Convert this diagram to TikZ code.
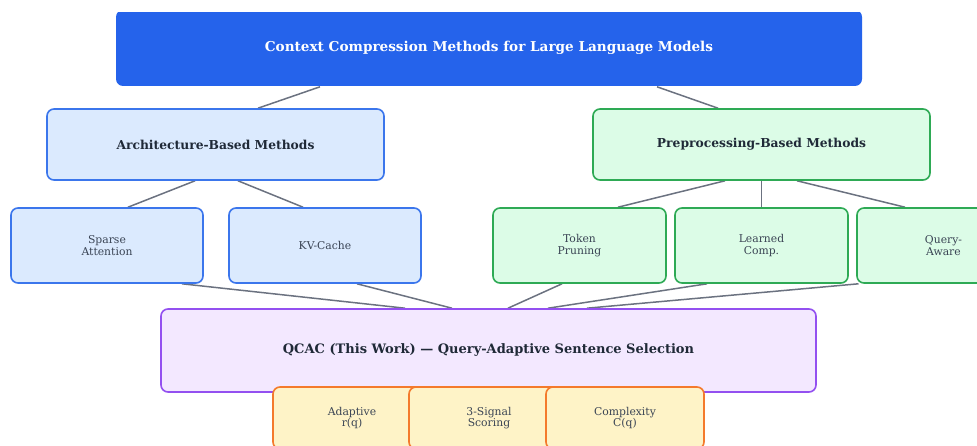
\documentclass[tikz,border=0pt]{standalone}
\usepackage{fontspec}
\setmainfont{DejaVu Serif}
\usetikzlibrary{positioning}
\definecolor{titleblue}{HTML}{2563EB}
\definecolor{archfill}{HTML}{DBEAFE}
\definecolor{archdraw}{HTML}{3B76EC}
\definecolor{prefill}{HTML}{DCFCE7}
\definecolor{predraw}{HTML}{2EAA55}
\definecolor{qfill}{HTML}{F3E8FF}
\definecolor{qdraw}{HTML}{9350F0}
\definecolor{ofill}{HTML}{FEF3C7}
\definecolor{odraw}{HTML}{F47A2C}
\definecolor{txtdark}{HTML}{1F2937}
\definecolor{txtleaf}{HTML}{3A4454}
\definecolor{edgegray}{HTML}{6B7280}
\pgfdeclarelayer{bg}
\pgfsetlayers{bg,main}
\tikzset{
  box/.style={rectangle, rounded corners=7pt, line width=1.6pt, inner sep=0pt, align=center},
  titlebox/.style={box, fill=titleblue, draw=none, text=white, font=\fontsize{13.6}{16}\selectfont\bfseries},
  archbox/.style={box, fill=archfill, draw=archdraw},
  prebox/.style={box, fill=prefill, draw=predraw},
  midtext/.style={text=txtdark, font=\fontsize{12.3}{14}\selectfont\bfseries},
  leaftext/.style={text=txtleaf, font=\fontsize{10.8}{11.3}\selectfont},
  qbox/.style={box, fill=qfill, draw=qdraw, text=txtdark, font=\fontsize{13}{15}\selectfont\bfseries},
  obox/.style={box, fill=ofill, draw=odraw, text=txtleaf, font=\fontsize{10.8}{11.3}\selectfont},
  conn/.style={draw=edgegray, line width=1.5pt}
}
\begin{document}
\begin{tikzpicture}[x=1pt,y=-1pt]
\useasboundingbox (0,0) rectangle (977,446);
\clip (0,13) rectangle (977,446);
\node[titlebox, minimum width=746pt, minimum height=76pt] (title) at (489,48) {Context Compression Methods for Large Language Models};
\node[archbox, midtext, minimum width=337pt, minimum height=71pt] (arch) at (215.5,144.5) {Architecture-Based Methods};
\node[prebox, midtext, minimum width=337pt, minimum height=71pt] (pre) at (761.5,144.5) {Preprocessing-Based Methods};
\node[archbox, leaftext, minimum width=192pt, minimum height=75pt] (sparse) at (107,245.5) {Sparse\\Attention};
\node[archbox, leaftext, minimum width=192pt, minimum height=75pt] (kv) at (325,245.5) {KV-Cache};
\node[prebox, leaftext, minimum width=173pt, minimum height=75pt] (token) at (579.5,245.5) {Token\\Pruning};
\node[prebox, leaftext, minimum width=173pt, minimum height=75pt] (learned) at (761.5,245.5) {Learned\\Comp.};
\node[prebox, leaftext, minimum width=173pt, minimum height=75pt] (query) at (943.5,245.5) {Query-\\Aware};
\node[qbox, minimum width=655pt, minimum height=83pt] (qcac) at (488.5,350.5) {QCAC (This Work) — Query-Adaptive Sentence Selection};
\node[obox, minimum width=158pt, minimum height=62pt] (adapt) at (352,418) {Adaptive\\r(q)};
\node[obox, minimum width=160pt, minimum height=62pt] (signal) at (489,418) {3-Signal\\Scoring};
\node[obox, minimum width=158pt, minimum height=62pt] (cplx) at (625,418) {Complexity\\C(q)};
\begin{pgfonlayer}{bg}
\path[conn] ([xshift=-169pt]title.south) -- ([xshift=42.5pt]arch.north);
\path[conn] ([xshift=168pt]title.south) -- ([xshift=-43.5pt]pre.north);
\path[conn] ([xshift=-20.5pt]arch.south) -- ([xshift=21pt]sparse.north);
\path[conn] ([xshift=22.5pt]arch.south) -- ([xshift=-22pt]kv.north);
\path[conn] ([xshift=-36.5pt]pre.south) -- ([xshift=38.5pt]token.north);
\path[conn] (pre.south) -- (learned.north);
\path[conn] ([xshift=35.5pt]pre.south) -- ([xshift=-38.5pt]query.north);
\path[conn] ([xshift=75pt]sparse.south) -- ([xshift=-83.5pt]qcac.north);
\path[conn] ([xshift=32pt]kv.south) -- ([xshift=-36.5pt]qcac.north);
\path[conn] ([xshift=-17.5pt]token.south) -- ([xshift=19.5pt]qcac.north);
\path[conn] ([xshift=-54.5pt]learned.south) -- ([xshift=59.5pt]qcac.north);
\path[conn] ([xshift=-85pt]query.south) -- ([xshift=98.5pt]qcac.north);
\end{pgfonlayer}
\end{tikzpicture}
\end{document}
